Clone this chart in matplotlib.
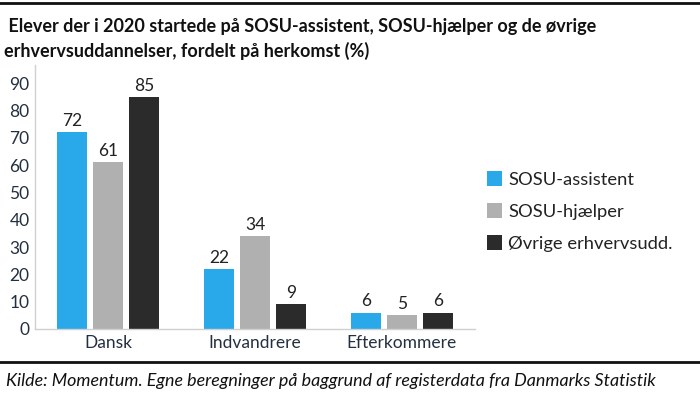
import matplotlib
matplotlib.use("Agg")
import matplotlib.pyplot as plt
import numpy as np
from matplotlib.patches import Patch
from matplotlib.lines import Line2D

categories = ["Dansk", "Indvandrere", "Efterkommere"]
series_names = ["SOSU-assistent", "SOSU-hjælper", "Øvrige erhvervsudd."]
sosu_assistent = [72, 22, 6]
sosu_hjaelper = [61, 34, 5]
oevrige = [85, 9, 6]
yticks = [0, 10, 20, 30, 40, 50, 60, 70, 80, 90]
title = " Elever der i 2020 startede på SOSU-assistent, SOSU-hjælper og de øvrige\nerhvervsuddannelser, fordelt på herkomst (%)"
source = "Kilde: Momentum. Egne beregninger på baggrund af registerdata fra Danmarks Statistik"

colors = ["#29a8ea", "#b0b0b0", "#2b2b2b"]
txt = "#243040"

plt.rcParams['font.family'] = ['Lato', 'DejaVu Sans']

fig = plt.figure(figsize=(7, 3.94), dpi=100)
ax = fig.add_axes([0.05, 0.165, 0.629, 0.67])

x = np.arange(len(categories))
offs = [-0.245, 0, 0.245]
w = 0.205
for vals, o, c, name in zip([sosu_assistent, sosu_hjaelper, oevrige], offs, colors, series_names):
    bars = ax.bar(x + o, vals, width=w, color=c, label=name, zorder=2)
    for b, v in zip(bars, vals):
        ax.text(b.get_x() + b.get_width() / 2, v + 1.2, str(v), ha='center', va='bottom',
                fontsize=12.5, color='#222222')

ax.set_xlim(-0.5, 2.5)
ax.set_ylim(0, 96.7)
ax.set_yticks(yticks)
ax.set_xticks(x)
ax.set_xticklabels(categories)
ax.tick_params(axis='both', length=0, labelsize=12.5, colors=txt)
ax.tick_params(axis='y', pad=4)
ax.tick_params(axis='x', pad=4)
for s in ['top', 'right']:
    ax.spines[s].set_visible(False)
ax.spines['left'].set_color('#d0d0d0')
ax.spines['bottom'].set_color('#d0d0d0')
ax.spines['left'].set_linewidth(1)
ax.spines['bottom'].set_linewidth(1)

handles = [Patch(facecolor=c, edgecolor='none') for c in colors]
leg = fig.legend(handles, series_names, loc='center left', bbox_to_anchor=(0.672, 0.463),
                 frameon=False, fontsize=13.2, handlelength=0.85, handleheight=0.85,
                 handletextpad=0.3, labelspacing=0.85)
for t in leg.get_texts():
    t.set_color('#222222')

fig.text(0.006, 0.955, title, ha='left', va='top', fontsize=13, fontweight='bold',
         color='#111111', linespacing=1.45)
fig.text(0.008, 0.012, source, ha='left', va='bottom', fontsize=12.9, style='italic',
         color='#111111')

fig.add_artist(Line2D([0, 1], [0.992, 0.992], transform=fig.transFigure, color='#111111', lw=2))
fig.add_artist(Line2D([0, 1], [0.081, 0.081], transform=fig.transFigure, color='#111111', lw=2))
fig.savefig("out.png", dpi=100)
